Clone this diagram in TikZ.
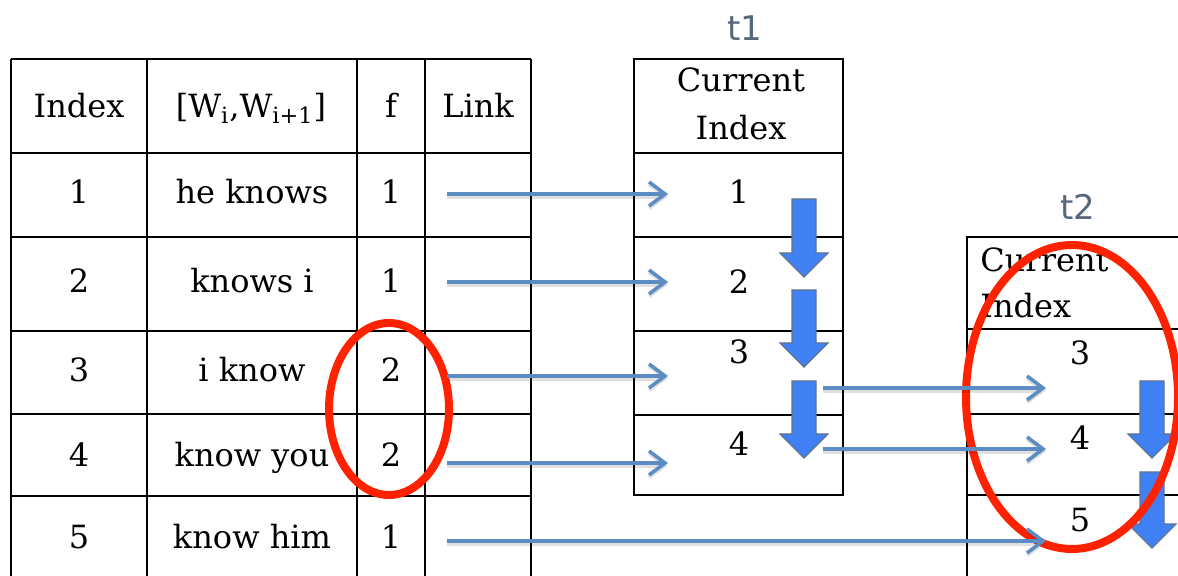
\documentclass[tikz,border=0pt]{standalone}
\usepackage{fontspec}
\setmainfont{DejaVu Serif}
\newfontfamily\labelfont{DejaVu Sans}
\usetikzlibrary{arrows.meta}
\definecolor{linkblue}{RGB}{91,141,196}
\definecolor{blockblue}{RGB}{64,128,245}
\definecolor{blockedge}{RGB}{95,115,140}
\definecolor{markred}{RGB}{255,34,0}
\definecolor{labelgray}{RGB}{86,104,122}
\newcommand\blkarrow[3]{%
  \filldraw[blockfill] ({#1-12},#2) -- ({#1+12},#2) -- ({#1+12},{#3-24}) -- ({#1+24},{#3-24})
    -- (#1,#3) -- ({#1-24},{#3-24}) -- ({#1-12},{#3-24}) -- cycle;}
\begin{document}
\begin{tikzpicture}[x=0.5pt,y=-0.5pt,
  gridline/.style={line width=1.1pt, black},
  cell/.style={font=\fontsize{16}{20}\selectfont, inner sep=0pt, anchor=base},
  tlabel/.style={font=\labelfont\fontsize{17}{20}\selectfont, text=labelgray, inner sep=0pt, anchor=center},
  link/.style={linkblue, line width=1.7pt, -{Straight Barb[length=8pt,width=12pt,line width=1.8pt]},
    preaction={draw=black, draw opacity=0.12, line width=2.6pt, transform canvas={yshift=-1.2pt}}},
  blockfill/.style={fill=blockblue, draw=blockedge, line width=0.6pt},
  redmark/.style={markred, line width=4pt}]
\useasboundingbox (0,0) rectangle (1178,576);
\begin{scope}
\clip (0,0) rectangle (1178,576);
% main table
\draw[gridline] (11,59) -- (531,59);
\foreach \y in {153,237,331,414,496} \draw[gridline] (11,\y) -- (531,\y);
\foreach \x in {11,147,357,425,531} \draw[gridline] (\x,59) -- (\x,590);
% t1 table
\draw[gridline] (634,59) rectangle (843,495);
\foreach \y in {153,237,331,415} \draw[gridline] (634,\y) -- (843,\y);
% t2 table
\draw[gridline] (1190,237) -- (967,237) -- (967,590);
\foreach \y in {329,414,495} \draw[gridline] (967,\y) -- (1190,\y);
\end{scope}

% header texts
\node[cell] (hIndex) at (79,118) {Index};
\node[cell] (hW) at (251,118) {[W\textsubscript{i},W\textsubscript{i+1}]};
\node[cell] (hf) at (391,118) {f};
\node[cell] (hLink) at (478,118) {Link};

% rows
\node[cell] (i1) at (79,204) {1};
\node[cell] (i2) at (79,293) {2};
\node[cell] (i3) at (79,382) {3};
\node[cell] (i4) at (79,467) {4};
\node[cell] (i5) at (79,549) {5};
\node[cell] (w1) at (252,204) {he knows};
\node[cell] (w2) at (252,293) {knows i};
\node[cell] (w3) at (252,382) {i know};
\node[cell] (w4) at (252,467) {know you};
\node[cell] (w5) at (252,549) {know him};
\node[cell] (f1) at (391,204) {1};
\node[cell] (f2) at (391,293) {1};
\node[cell] (f3) at (391,382) {2};
\node[cell] (f4) at (391,467) {2};
\node[cell] (f5) at (391,549) {1};

% t1
\node[tlabel] (t1) at (745,28) {t1};
\node[cell] (t1c) at (741,92) {Current};
\node[cell] (t1i) at (741,140) {Index};
\node[cell] (a1) at (739,204) {1};
\node[cell] (a2) at (739,294) {2};
\node[cell] (a3) at (739,364) {3};
\node[cell] (a4) at (739,456) {4};

% t2
\node[tlabel] (t2) at (1078,207) {t2};
\node[cell, anchor=base west] (t2c) at (980,272) {Current};
\node[cell, anchor=base west] (t2i) at (980,318) {Index};
\node[cell] (b3) at (1080,365) {3};
\node[cell] (b4) at (1080,450) {4};
\node[cell] (b5) at (1080,532) {5};

% block arrows
\blkarrow{804}{199}{277}
\blkarrow{804}{290}{367}
\blkarrow{804}{381}{458}
\blkarrow{1152}{381}{458}
\blkarrow{1152}{472}{548}

% red marks
\draw[redmark] (389,409) ellipse [x radius=60, y radius=86];
\draw[redmark] (1072,397) ellipse [x radius=106, y radius=152];

% link connectors
\coordinate (s1) at (447,194); \coordinate (e1) at (668,194);
\coordinate (s2) at (447,282); \coordinate (e2) at (668,282);
\coordinate (s3) at (447,376); \coordinate (e3) at (668,376);
\coordinate (s4) at (447,463); \coordinate (e4) at (668,463);
\coordinate (s5) at (447,541); \coordinate (e5) at (1046,541);
\coordinate (u3) at (823,388); \coordinate (v3) at (1046,388);
\coordinate (u4) at (823,449); \coordinate (v4) at (1046,449);
\draw[link] (s1) -- (e1);
\draw[link] (s2) -- (e2);
\draw[link] (s3) -- (e3);
\draw[link] (s4) -- (e4);
\draw[link] (s5) -- (e5);
\draw[link] (u3) -- (v3);
\draw[link] (u4) -- (v4);
\end{tikzpicture}
\end{document}
